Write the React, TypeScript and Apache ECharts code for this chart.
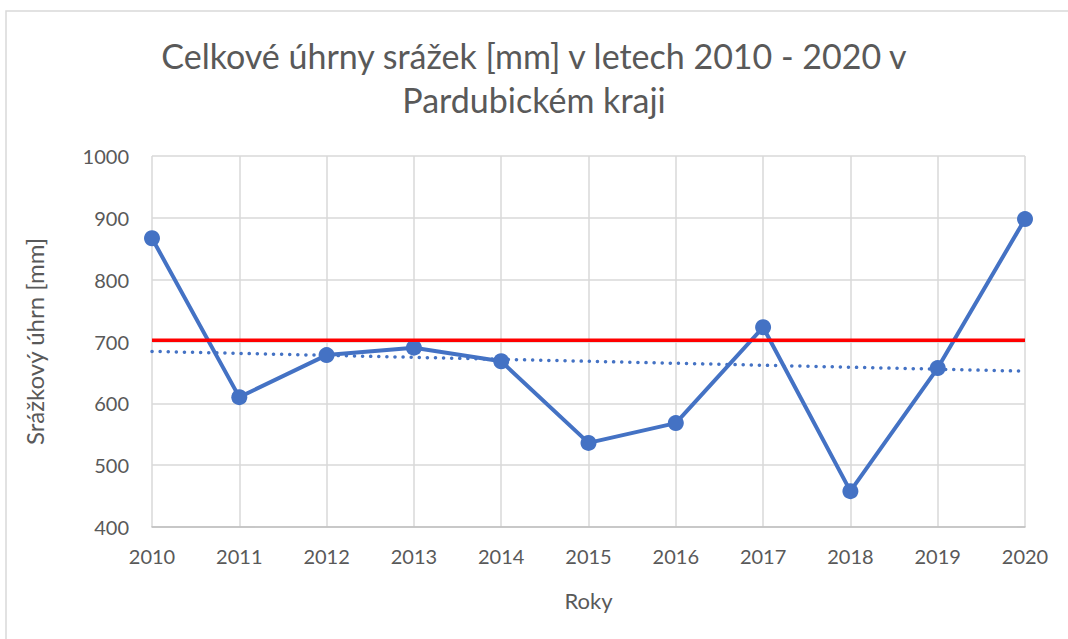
import React, { useEffect, useRef } from "react";
import * as echarts from "echarts";

const years = [2010, 2011, 2012, 2013, 2014, 2015, 2016, 2017, 2018, 2019, 2020];
const precipitation = [867, 610, 678, 690, 668, 536, 568, 723, 458, 657, 898];
const normalValue = 702;
const trendYears = [2010, 2020];
const trendValues = [684, 652];

const titleText = "Celkové úhrny srážek [mm] v letech 2010 - 2020 v\nPardubickém kraji";
const xName = "Roky";
const yName = "Srážkový úhrn [mm]";

export default function App() {
  const ref = useRef<HTMLDivElement>(null);
  useEffect(() => {
    if (!ref.current) return;
    const chart = echarts.init(ref.current, null, { renderer: "svg" });
    const font = "Lato";
    chart.setOption({
      animation: false,
      backgroundColor: "#ffffff",
      textStyle: { fontFamily: font },
      title: {
        text: titleText,
        left: "center",
        top: 28,
        textStyle: {
          fontFamily: font,
          fontSize: 34,
          fontWeight: "normal",
          color: "#595959",
          lineHeight: 44,
        },
      },
      graphic: [
        {
          type: "rect",
          shape: { x: 6, y: 11, width: 1200, height: 800 },
          style: { fill: "none", stroke: "#d9d9d9", lineWidth: 1.5 },
          silent: true,
        },
      ],
      grid: { left: 152, right: 43, top: 156, bottom: 112 },
      xAxis: {
        type: "value",
        min: 2010,
        max: 2020,
        interval: 1,
        name: xName,
        nameLocation: "middle",
        nameGap: 62,
        nameTextStyle: { fontSize: 22, color: "#595959", fontFamily: font },
        axisLine: { show: true, lineStyle: { color: "#bfbfbf", width: 1.5 } },
        axisTick: { show: false },
        axisLabel: {
          fontSize: 20,
          color: "#595959",
          margin: 19,
          formatter: (v: number) => String(v),
        },
        splitLine: { show: true, lineStyle: { color: "#d9d9d9", width: 1.5 } },
      },
      yAxis: {
        type: "value",
        min: 400,
        max: 1000,
        interval: 100,
        name: yName,
        nameLocation: "middle",
        nameGap: 106,
        nameTextStyle: { fontSize: 24, color: "#595959", fontFamily: font },
        axisLine: { show: false },
        axisTick: { show: false },
        axisLabel: {
          fontSize: 20,
          color: "#595959",
          margin: 23,
          formatter: (v: number) => String(v),
        },
        splitLine: { show: true, lineStyle: { color: "#d9d9d9", width: 1.5 } },
      },
      series: [
        {
          type: "line",
          data: trendYears.map((y, i) => [y, trendValues[i]]),
          symbol: "none",
          lineStyle: { color: "#4472C4", width: 3.5, type: [0.1, 8], cap: "round" },
          z: 2,
        },
        {
          type: "line",
          data: years.map((y, i) => [y, precipitation[i]]),
          symbol: "circle",
          symbolSize: 16,
          itemStyle: { color: "#4472C4" },
          lineStyle: { color: "#4472C4", width: 4 },
          z: 3,
        },
        {
          type: "line",
          data: [
            [years[0], normalValue],
            [years[years.length - 1], normalValue],
          ],
          symbol: "none",
          lineStyle: { color: "#FF0000", width: 3.5 },
          z: 4,
        },
      ],
    });
    return () => chart.dispose();
  }, []);
  return (
    <div
      ref={ref}
      style={{ position: "fixed", left: 0, top: 0, width: 1068, height: 639 }}
    />
  );
}
